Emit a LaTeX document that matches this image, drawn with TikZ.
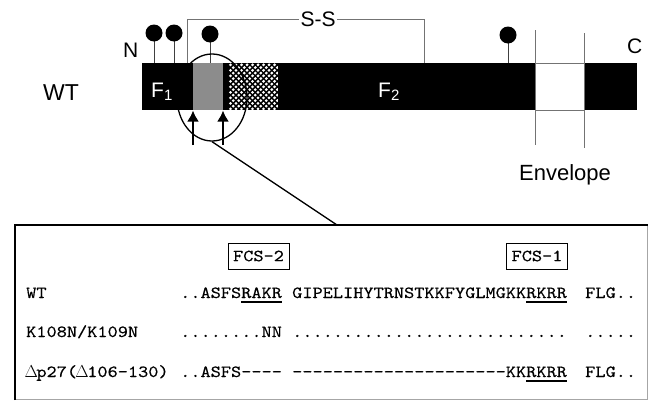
\documentclass[tikz,border=0pt]{standalone}
\usepackage{fontspec}
\setmainfont{Liberation Sans}
\newfontfamily\seqfont{lmmono10-regular}[Extension=.otf, FakeStretch=1.14, FakeBold=0.4]
\usetikzlibrary{shapes.geometric,arrows.meta}
\newcommand\myul[1]{\setbox0\hbox{#1}\rlap{\rule[-4.5pt]{\wd0}{1.1pt}}\box0}
\newcommand\Dl{\makebox[\fontcharwd\font`0\relax]{$\Delta$}}
\begin{document}
\begin{tikzpicture}[x=1pt,y=-1pt,
  lab/.style={font=\fontsize{21}{24}\selectfont, inner sep=0pt, anchor=base west},
  seq/.style={font=\seqfont\fontsize{17}{20}\selectfont, inner sep=0pt, anchor=base west},
  graybar/.style={draw=black!55, line width=0.9pt},
  lolli/.style={circle, fill=black, minimum size=17pt, inner sep=0pt},
  stem/.style={draw=black!75, line width=1pt},
  cut/.style={-{Latex[length=11pt,width=12pt]}, line width=2.6pt},
  fcs/.style={draw, line width=0.9pt, font=\seqfont\fontsize{17}{20}\selectfont, minimum width=61pt, minimum height=26pt, inner sep=0pt}]
\useasboundingbox (0,0) rectangle (648,402);

% ---- protein bar
\fill (142,63) rectangle (193,110);
\fill[black!45] (193,63) rectangle (223,110);
\fill (223,63) rectangle (228,110);
\begin{scope}
  \clip (228,63) rectangle (278,110);
  \fill (228,63) rectangle (278,110);
  \foreach \j in {0,...,8} {
    \foreach \i in {0,...,9} {
      \fill[white] (230.5+5.5*\i,64.8+5.5*\j) circle (1.55);
      \fill[white] (233.25+5.5*\i,67.55+5.5*\j) circle (1.55);
    }
  }
\end{scope}
\fill (278,63) rectangle (535,110);
\draw[graybar, fill=white] (535,63) rectangle (584,110);
\fill (584,63) rectangle (637,110);

% envelope lines
\draw[graybar] (535,30) -- (535,145);
\draw[graybar] (584,33) -- (584,148);

% labels
\node[lab, font=\fontsize{23}{26}\selectfont] (wtlab) at (43,100) {WT};
\node[lab] (nlab) at (123,57) {N};
\node[lab] (clab) at (627,53) {C};
\node[lab, font=\fontsize{22}{25}\selectfont, anchor=base] (env) at (565,180) {Envelope};
\node[lab, text=white] (f1) at (151,97) {F\raisebox{-3pt}{\fontsize{15}{15}\selectfont 1}};
\node[lab, text=white] (f2) at (378,97) {F\raisebox{-3pt}{\fontsize{15}{15}\selectfont 2}};

% glycosylation lollipops
\foreach \n/\x/\y in {g1/154/33, g2/174/33, g3/210/34, g4/508/35} {
  \coordinate (\n base) at (\x,63);
  \draw[stem] (\x,\y) -- (\n base);
  \node[lolli] (\n) at (\x,\y) {};
}

% S-S bracket
\node[font=\fontsize{21}{24}\selectfont, inner xsep=1.5pt, inner ysep=0pt] (ss) at (318,19) {S-S};
\coordinate (ssl) at (187,63);
\coordinate (ssr) at (424,63);
\draw[graybar] (ssl) |- (ss.west);
\draw[graybar] (ssr) |- (ss.east);

% zoom circle and cleavage arrows
\node[draw, ellipse, line width=1.3pt, minimum width=70pt, minimum height=87pt, inner sep=0pt] (zc) at (212,97.5) {};
\coordinate (a1s) at (193,145); \coordinate (a1e) at (193,110.5);
\coordinate (a2s) at (223,145); \coordinate (a2e) at (223,110.5);
\draw[cut] (a1s) -- (a1e);
\draw[cut] (a2s) -- (a2e);

% panel
\draw[black!35, line width=0.6pt] (15,225) rectangle (647,399);
\draw[line width=2pt] (15,400) -- (15,225) -- (648,225);
\coordinate (paneltop) at (337,225);
\draw[line width=1.3pt] (zc.south) -- (paneltop);

% FCS boxes
\node[fcs] (fcs2) at (258.5,256) {FCS-2};
\node[fcs] (fcs1) at (537,256) {FCS-1};

% sequences
\node[seq] (r1a) at (26,298) {WT};
\node[seq] (r1b) at (180,298) {..ASFS\myul{RAKR}};
\node[seq] (r1c) at (292,298) {GIPELIHYTRNSTKKFYGLMGKK\myul{RKRR}};
\node[seq] (r1d) at (585,298) {FLG..};

\node[seq] (r2a) at (26,337) {K108N/K109N};
\node[seq] (r2b) at (180,337) {........NN};
\node[seq] (r2c) at (292,337) {...........................};
\node[seq] (r2d) at (585,337) {.....};

\node[seq] (r3a) at (26,377) {\Dl p27(\Dl 106-130)};
\node[seq] (r3b) at (180,377) {..ASFS-{}-{}-{}-};
\node[seq] (r3c) at (292,377) {-{}-{}-{}-{}-{}-{}-{}-{}-{}-{}-{}-{}-{}-{}-{}-{}-{}-{}-{}-{}-KK\myul{RKRR}};
\node[seq] (r3d) at (585,377) {FLG..};
\end{tikzpicture}
\end{document}
